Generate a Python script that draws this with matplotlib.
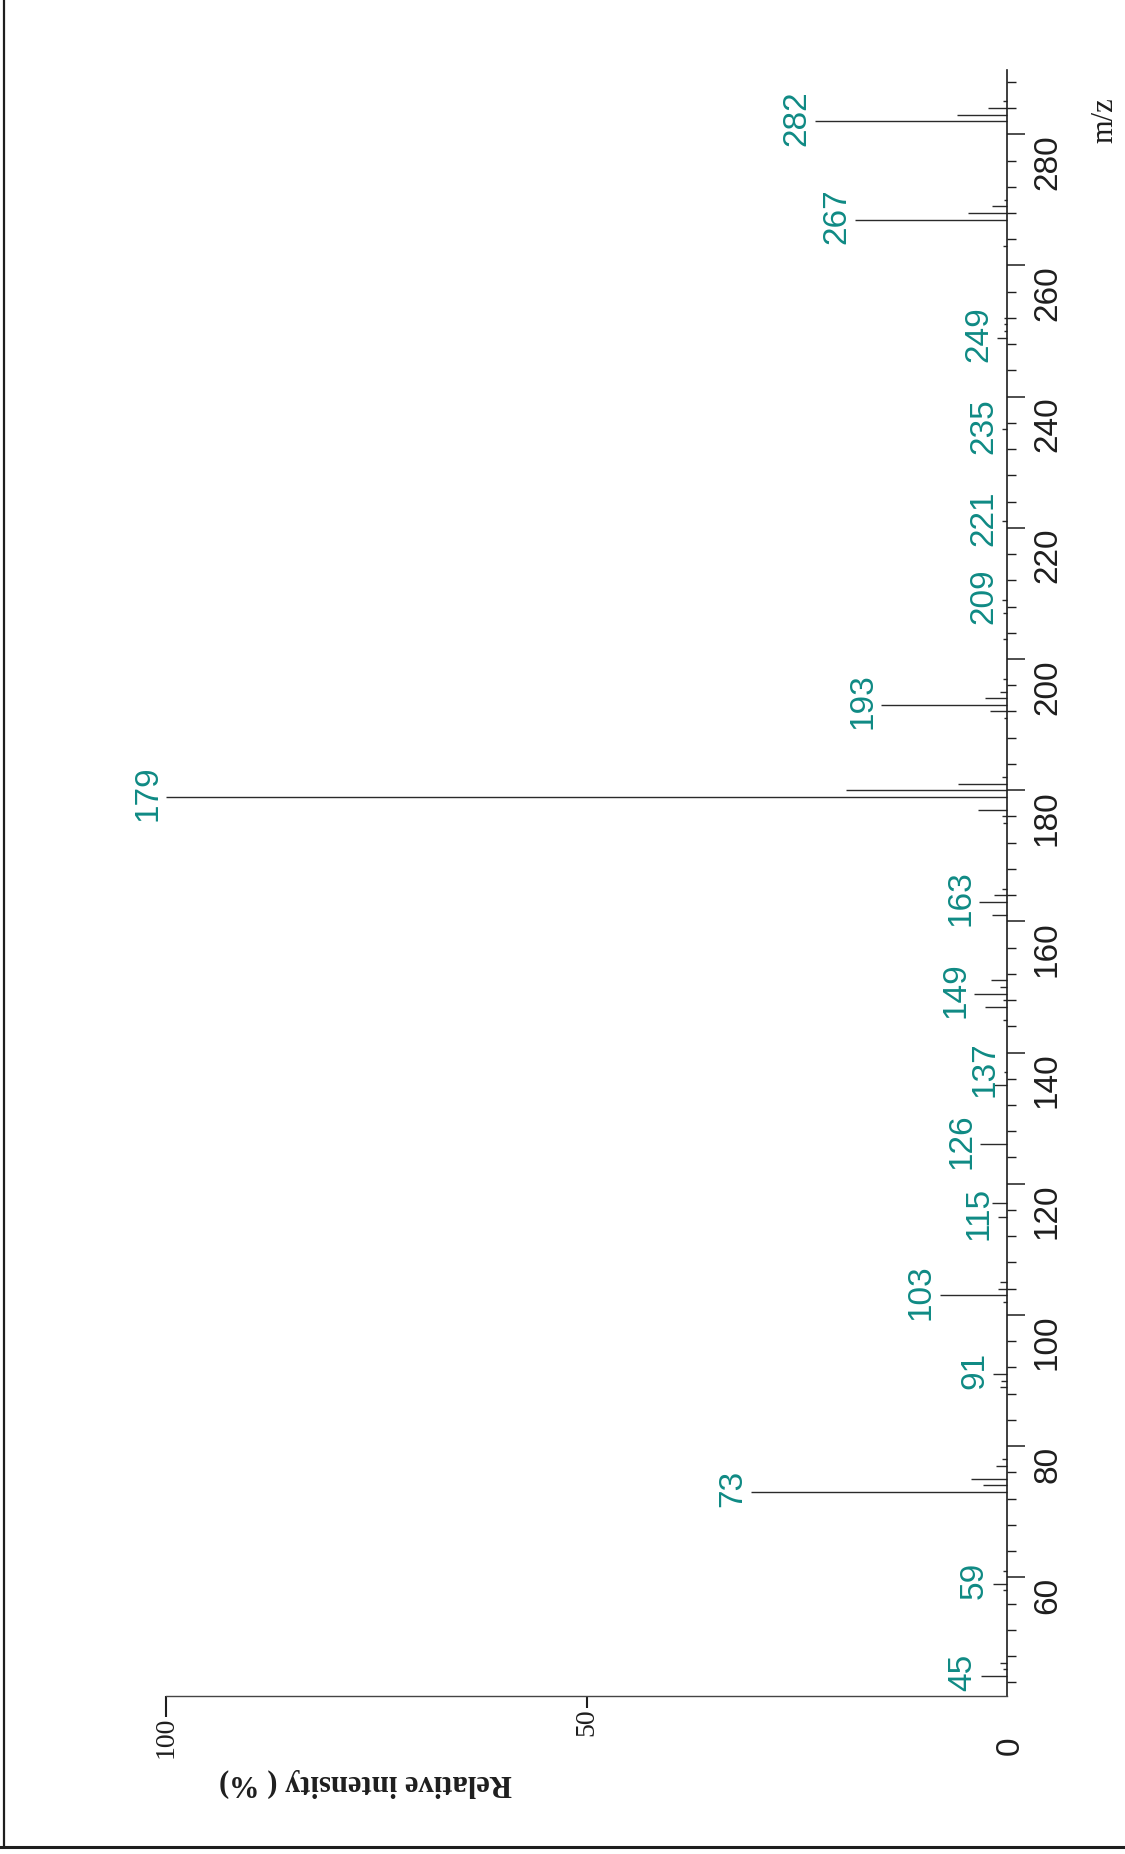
import matplotlib
matplotlib.use("Agg")
import matplotlib.pyplot as plt
from matplotlib.ticker import MultipleLocator, FixedLocator, FixedFormatter
from matplotlib.lines import Line2D

# EI mass spectrum: m/z values and relative intensities (%)
mz = [45, 46, 47, 58, 59, 61, 73, 74, 75, 77, 78, 89, 90, 91,
      102, 103, 104, 105, 115, 117, 126, 135, 137, 145, 147, 148, 149, 150,
      151, 161, 163, 164, 165, 175, 176, 177, 179, 180, 181, 182,
      191, 192, 193, 194, 195, 197, 203, 207, 209, 221, 235,
      249, 250, 251, 252, 263, 267, 268, 269, 270, 282, 283, 284, 285]
intensity = [3.1, 0.5, 0.8, 0.5, 1.7, 0.5, 30.4, 2.8, 4.3, 1.3, 0.6, 0.8, 0.7, 1.7,
             0.5, 8.0, 1.1, 0.8, 1.1, 1.8, 3.2, 1.6, 0.4, 0.5, 2.6, 0.5, 3.9, 0.8,
             1.9, 1.8, 3.3, 1.5, 0.6, 0.5, 0.6, 3.4, 100.0, 19.2, 5.8, 0.6,
             0.4, 2.0, 15.0, 2.6, 0.8, 0.5, 0.5, 0.5, 0.6, 0.6, 0.6,
             1.2, 0.4, 0.4, 0.4, 0.5, 18.1, 4.6, 1.8, 0.4, 22.8, 5.9, 2.3, 0.5]
labelled = [45, 59, 73, 91, 103, 115, 126, 137, 149, 163, 179, 193,
            209, 221, 235, 249, 267, 282]

mz_range = (41.9, 289.8)
int_range = (100, 0)
int_major = [100]
int_minor = [50]

W, H = 1125, 1854
TEAL = "#0f8a84"
INK = "#1e1e1e"

fig = plt.figure(figsize=(W / 100, H / 100), dpi=100)
ax = fig.add_axes([166 / W, 1 - 1696 / H, (1007 - 166) / W, (1696 - 70) / H])
ax.set_xlim(*int_range)
ax.set_ylim(*mz_range)

# spectrum sticks
ax.hlines(mz, 0, intensity, colors="#2a2a2a", linewidth=1.0, clip_on=False)

# peak annotations
lookup = dict(zip(mz, intensity))
for m in labelled:
    ax.annotate(str(m), xy=(lookup[m], m), xytext=(-2, 2.5),
                textcoords="offset points", rotation=90, ha="right",
                va="center", color=TEAL, fontsize=24,
                family="Liberation Sans")

# spines
for side in ("left", "top"):
    ax.spines[side].set_visible(False)
ax.spines["right"].set_linewidth(1.2)
ax.spines["right"].set_color(INK)
ax.spines["bottom"].set_linewidth(1.0)
ax.spines["bottom"].set_color("#444444")

# m/z axis (right side)
ax.yaxis.tick_right()
ax.yaxis.set_major_locator(MultipleLocator(20))
ax.yaxis.set_minor_locator(MultipleLocator(4))
ax.tick_params(axis="y", which="major", direction="out", length=13,
               width=1.1, pad=5, labelsize=24, labelrotation=90,
               colors=INK, labelfontfamily="Liberation Sans")
ax.tick_params(axis="y", which="minor", direction="out", length=6.5,
               width=1.0, colors=INK)
for lbl in ax.yaxis.get_majorticklabels():
    lbl.set_verticalalignment("top")
    lbl.set_horizontalalignment("left")

# intensity axis (bottom)
ax.xaxis.set_major_locator(FixedLocator(int_major))
ax.xaxis.set_major_formatter(FixedFormatter([str(v) for v in int_major]))
ax.xaxis.set_minor_locator(FixedLocator(int_minor))
ax.xaxis.set_minor_formatter(FixedFormatter([str(v) for v in int_minor]))
ax.tick_params(axis="x", which="major", direction="out", length=15,
               width=1.5, pad=0, labelsize=20, labelrotation=90,
               colors=INK, labelfontfamily="Liberation Serif")
ax.tick_params(axis="x", which="minor", direction="out", length=8.6,
               width=1.5, pad=0, labelsize=20, labelrotation=90,
               colors=INK, labelfontfamily="Liberation Serif")

# origin label, axis titles
fig.text(1010 / W, 1 - 1746 / H, "0", rotation=90, ha="center", va="center",
         fontsize=24, family="Liberation Sans", color=INK)
fig.text(1105 / W, 1 - 120 / H, "m/z", rotation=90, ha="center", va="center",
         fontsize=22, family="Liberation Serif", color=INK)
fig.text(365 / W, 1 - 1783 / H, "Relative intensity ( %)", rotation=180,
         ha="center", va="center", fontsize=22, family="Liberation Serif",
         weight="bold", color=INK)

# page frame (left and bottom edges)
fig.add_artist(Line2D([3.5 / W, 3.5 / W], [1 - 1847 / H, 1],
                      transform=fig.transFigure, color=INK, linewidth=1.6))
fig.add_artist(Line2D([0, 1], [1 - 1847 / H, 1 - 1847 / H],
                      transform=fig.transFigure, color=INK, linewidth=2.2))

fig.savefig("out.png", dpi=100)
